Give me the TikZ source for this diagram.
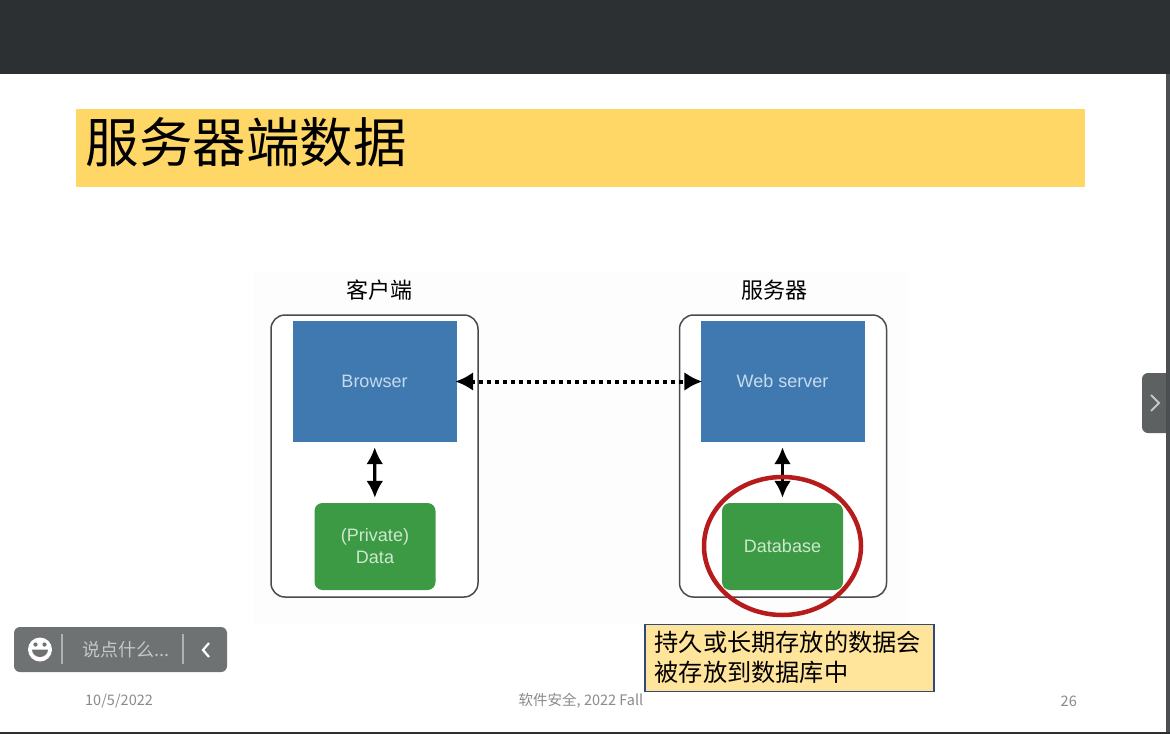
\documentclass[tikz,border=0pt]{standalone}
\usepackage{fontspec}
\setmainfont{Noto Sans CJK SC}
\newfontfamily\latinf{Liberation Sans}
\usetikzlibrary{arrows.meta,shapes.geometric}
\definecolor{barcol}{HTML}{2D3033}
\definecolor{titlecol}{HTML}{FFD766}
\definecolor{bluecol}{HTML}{3F79AF}
\definecolor{greencol}{HTML}{3D9A44}
\definecolor{redcol}{HTML}{B71C1C}
\definecolor{notecol}{HTML}{FFE49B}
\definecolor{noteline}{HTML}{2F4A7A}
\definecolor{graycol}{HTML}{6F7272}
\definecolor{foot}{HTML}{8A8A8A}
\definecolor{framecol}{HTML}{4A4A4A}
\definecolor{lblue}{HTML}{C5DBEE}
\definecolor{lgreen}{HTML}{CDE8CD}
\definecolor{imgbg}{HTML}{FEFDFE}
\tikzset{
  x=1pt,y=-1pt,
  frame/.style={draw=framecol,line width=1.5pt,rounded corners=14pt,fill=white},
  bluebox/.style={fill=bluecol,minimum width=164pt,minimum height=121pt,inner sep=0pt,text=lblue,font=\latinf\fontsize{18}{20}\selectfont},
  greenbox/.style={fill=greencol,rounded corners=8pt,minimum width=121pt,minimum height=87pt,inner sep=0pt,text=lgreen,align=center,font=\latinf\fontsize{18}{22}\selectfont},
  head/.style={text=black,inner sep=0pt,font=\fontsize{22}{24}\selectfont},
  vlink/.style={line width=3.2pt,{Latex[length=17pt,width=17pt]}-{Latex[length=17pt,width=17pt]},shorten <=5pt,shorten >=5pt},
  hlink/.style={line width=4pt,dash pattern=on 4pt off 4pt,{Latex[length=18pt,width=19pt]}-{Latex[length=18pt,width=19pt]},shorten <=-1.5pt,shorten >=-2pt},
  foottext/.style={text=foot,inner sep=0pt,font=\fontsize{14.5}{16}\selectfont},
  sep/.style={draw=white!45!graycol,line width=1.2pt},
}
\begin{document}
\begin{tikzpicture}
\useasboundingbox (0,0) rectangle (1170,734);
\fill[white] (0,0) rectangle (1170,734);
\fill[barcol] (0,0) rectangle (1170,74);
\fill[barcol] (0,732) rectangle (1170,734);
\fill[barcol!85!white] (1166,74) rectangle (1170,732);
% title
\node[fill=titlecol,minimum width=1009pt,minimum height=78pt,inner sep=0pt] (titlebar) at (580.5,148) {};
\node[anchor=west,inner sep=0pt,text=black,font=\fontsize{53.5}{56}\selectfont] (titletext) at (85.5,142.5) {服务器端数据};
% image background
\fill[imgbg] (253,272) rectangle (908,625);
\node[head] (clienthead) at (379,290) {客户端};
\node[head] (serverhead) at (774.5,290) {服务器};
\draw[frame] (271,315) rectangle (478,597);
\draw[frame] (679.5,315) rectangle (886.5,597);
\node[bluebox] (browser) at (374.5,381.5) {Browser};
\node[bluebox] (web) at (782.5,381.5) {Web server};
\node[greenbox] (data) at (375,546.5) {(Private)\\Data};
\node[greenbox] (db) at (782.5,546.5) {Database};
\draw[hlink] (browser) -- (web);
\draw[vlink] (browser) -- (data);
\draw[vlink] (web) -- (db);
% red ellipse
\node[draw=redcol,line width=4.5pt,ellipse,minimum width=157pt,minimum height=138pt,inner sep=0pt] (ring) at (782.5,546) {};
% note
\node[draw=noteline,line width=1.2pt,fill=notecol,minimum width=289pt,minimum height=67pt,inner sep=0pt] (notebox) at (789.5,658) {};
\node[anchor=west,inner sep=0pt,align=left,text=black,font=\fontsize{24.2}{30}\selectfont] (notetext) at (654.5,657.5) {持久或长期存放的数据会\\被存放到数据库中};
% footer
\node[foottext,anchor=west] (date) at (85,701) {10/5/2022};
\node[foottext,anchor=center] (course) at (581,701) {软件安全, 2022 Fall};
\node[foottext,anchor=east] (page) at (1077,701) {26};
% chat pill
\fill[graycol,rounded corners=6pt] (14,627) rectangle (227,672);
\fill[white] (40,649.5) circle (12);
\fill[graycol] (35.5,644.5) circle (2.1) (44.5,644.5) circle (2.1);
\fill[graycol] (32,649.5) arc (180:0:8 and 7.5) -- cycle;
\draw[sep] (62,634) -- (62,664);
\draw[sep] (183,634) -- (183,664);
\node[anchor=west,inner sep=0pt,text=white!60!graycol,font=\fontsize{18}{20}\selectfont] (say) at (82.5,649.5) {说点什么...};
\draw[white,line width=2.2pt] (209,643) -- (203,650) -- (209,657);
% side tab
\fill[graycol!85!black,rounded corners=6pt] (1142,373) rectangle (1180,433);
\fill[barcol!85!white] (1166,360) rectangle (1170,445);
\draw[white!60!graycol,line width=2pt] (1151,395) -- (1159,403) -- (1151,411);
\end{tikzpicture}
\end{document}
